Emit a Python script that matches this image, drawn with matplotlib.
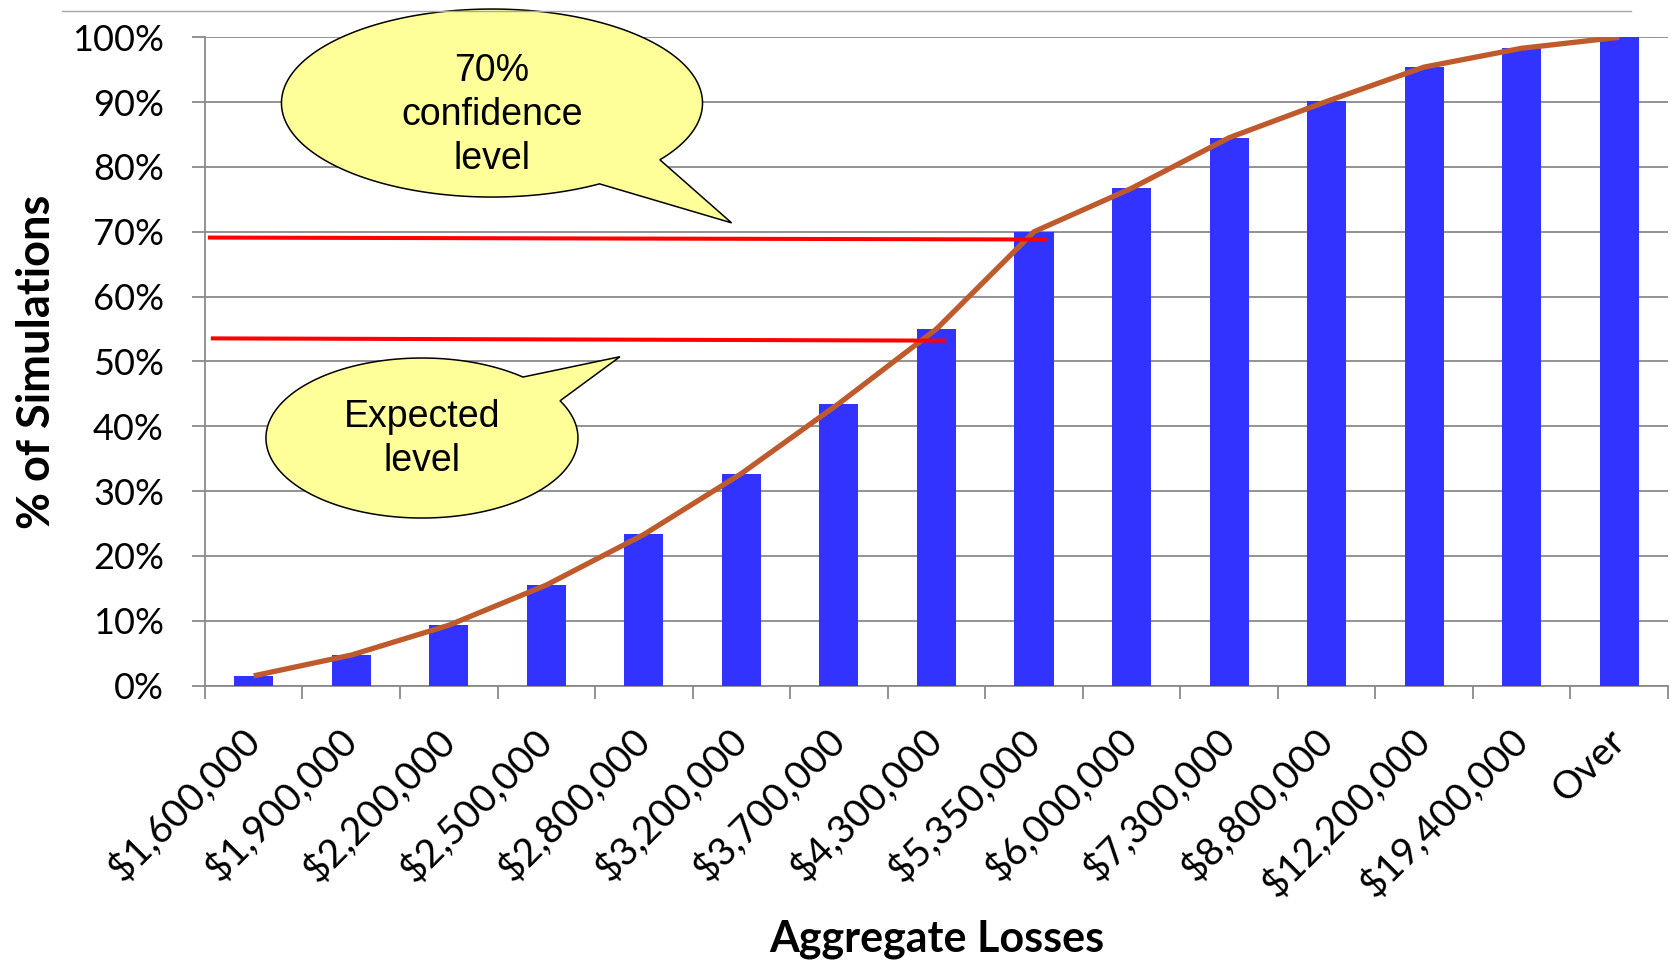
import numpy as np
import matplotlib.pyplot as plt
from matplotlib.patches import Polygon
from matplotlib.lines import Line2D

plt.switch_backend('Agg')

# cumulative share of simulations at or below each loss bin
bins = ['$1,600,000', '$1,900,000', '$2,200,000', '$2,500,000', '$2,800,000',
        '$3,200,000', '$3,700,000', '$4,300,000', '$5,350,000', '$6,000,000',
        '$7,300,000', '$8,800,000', '$12,200,000', '$19,400,000', 'Over']
cum_pct = [1.5, 4.7, 9.3, 15.5, 23.3, 32.7, 43.5, 55.0, 70.0, 76.7,
           84.5, 90.1, 95.4, 98.3, 100.0]
yticks = [0, 10, 20, 30, 40, 50, 60, 70, 80, 90, 100]

# reference levels (x from / x to in bin units, y in %)
conf_line = [(-0.47, 8.13), (69.1, 68.8)]
exp_line = [(-0.44, 7.10), (53.55, 53.2)]

bar_col = '#3333FF'
curve_col = '#BF5A2C'
grid_col = '#8A8A8A'
bubble_fc = '#FFFF99'

tick_font = 'Lato'
note_font = 'Liberation Sans'


def speechBubble(ax, cx, cy, w, h, base1, tip, base2):
    # ellipse outline running from base1 round to base2, then out to the tip
    def ang(p):
        return np.arctan2((p[1] - cy) / (h / 2), (p[0] - cx) / (w / 2))
    a1, a2 = ang(base1), ang(base2)
    if a2 < a1:
        a2 += 2 * np.pi
    t = np.linspace(a1, a2, 240)
    pts = np.column_stack([cx + w / 2 * np.cos(t), cy + h / 2 * np.sin(t)])
    pts = np.vstack([pts, [tip]])
    poly = Polygon(pts, closed=True, facecolor=bubble_fc, edgecolor='black',
                   linewidth=1.1, clip_on=False, zorder=6)
    ax.add_patch(poly)


fig = plt.figure(figsize=(16.73, 9.65), dpi=100)
ax = fig.add_axes([0.1225, 0.2896, 0.8745, 0.6718])

x = np.arange(len(bins))
ax.bar(x, cum_pct, width=0.4, color=bar_col, zorder=3)
ax.plot(x, cum_pct, color=curve_col, linewidth=3.8, solid_joinstyle='round',
        solid_capstyle='butt', zorder=4)

ax.plot(conf_line[0], conf_line[1], color='red', linewidth=2.9, zorder=5,
        solid_capstyle='butt')
ax.plot(exp_line[0], exp_line[1], color='red', linewidth=2.9, zorder=5,
        solid_capstyle='butt')

ax.set_xlim(-0.5, len(bins) - 0.5)
ax.set_ylim(0, 100)

ax.set_yticks(yticks)
ax.set_yticklabels([str(v) + '%' for v in yticks], fontsize=26, family=tick_font)
ax.yaxis.grid(True, color=grid_col, linewidth=1.3, zorder=0)
ax.set_axisbelow(True)

ax.set_xticks(np.arange(len(bins) + 1) - 0.5)
ax.set_xticklabels([])
ax.set_xticks(x, minor=True)
ax.set_xticklabels(bins, minor=True, rotation=45, ha='right', va='center',
                   rotation_mode='anchor', fontsize=28, family=tick_font)
ax.tick_params(axis='x', which='minor', length=0, pad=36)
ax.tick_params(axis='x', which='major', length=9.5, width=1.3, color=grid_col)
ax.tick_params(axis='y', length=9.5, width=1.3, color=grid_col, pad=20)

for s in ['top', 'right']:
    ax.spines[s].set_visible(False)
for s in ['left', 'bottom']:
    ax.spines[s].set_color(grid_col)
    ax.spines[s].set_linewidth(1.3)

ax.set_ylabel('% of Simulations', fontsize=32.5, fontweight='bold', family=tick_font,
              labelpad=10)
ax.set_xlabel('Aggregate Losses', fontsize=31, fontweight='bold', family=tick_font)
ax.xaxis.set_label_coords(0.5, -0.36)

# callouts
speechBubble(ax, 2.443, 89.85, 4.317, 29.0, (4.172, 81.06), (4.899, 71.37), (3.550, 77.33))
ax.text(2.443, 88.0, '70%\nconfidence\nlevel', ha='center', va='center',
        fontsize=27, family=note_font, linespacing=1.27, zorder=7)

speechBubble(ax, 1.725, 38.18, 3.199, 24.68, (2.761, 47.59), (3.755, 50.72), (3.150, 43.96))
ax.text(1.725, 38.0, 'Expected\nlevel', ha='center', va='center',
        fontsize=27, family=note_font, linespacing=1.27, zorder=7)

# thin rule across the top
fig.add_artist(Line2D([62 / 1673, 1631 / 1673], [1 - 10.7 / 965] * 2,
                      color='#A6A6A6', linewidth=1.0))

fig.savefig('out.png', dpi=100)
